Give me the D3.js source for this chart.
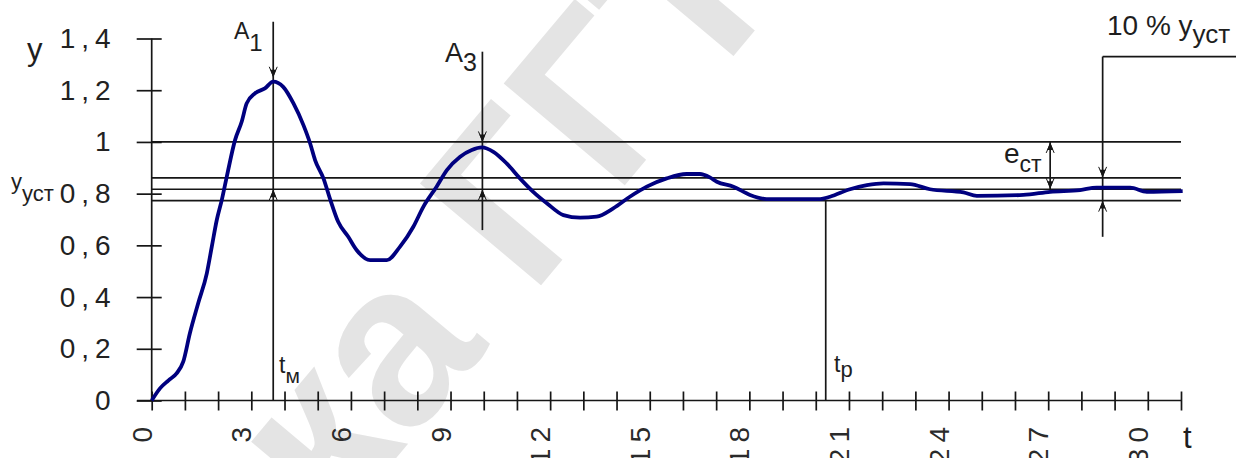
<!DOCTYPE html>
<html>
<head>
<meta charset="utf-8">
<script src="https://cdn.jsdelivr.net/npm/d3@7"></script>
<style>
  html, body { margin: 0; padding: 0; background: #fff; }
  svg { display: block; font-family: "Liberation Sans", Arial, sans-serif; }
</style>
</head>
<body>
<svg id="chart" width="1245" height="458"></svg>
<script>
// Transient response y(t) of a control system
const timeValues = [0, 0.25, 0.5, 0.75, 0.95, 1.15, 1.4, 1.66, 1.81, 1.96, 2.11, 2.26, 2.51, 2.71, 2.86,
  3.11, 3.41, 3.66, 3.96, 4.27, 4.57, 4.77, 4.92, 5.17, 5.37, 5.62, 5.92, 6.17, 6.58, 7.08, 7.48,
  7.88, 8.18, 8.58, 8.89, 9.29, 9.64, 9.94, 10.29, 10.69, 11.09, 11.49, 11.9, 12.4, 12.9, 13.4,
  13.9, 14.4, 14.91, 15.51, 16.11, 16.51, 16.81, 17.02, 17.52, 18.02, 18.52, 19.23, 20.13, 20.43,
  21.03, 21.54, 22.04, 22.84, 23.44, 24.45, 24.85, 26.25, 27.06, 27.96, 28.46, 29.47, 29.97, 31.05];
const responseValues = [0, 0.047, 0.077, 0.105, 0.15, 0.26, 0.376, 0.492, 0.595, 0.698, 0.775, 0.865, 1.007, 1.078, 1.149,
  1.188, 1.207, 1.233, 1.213, 1.149, 1.065, 0.995, 0.93, 0.86, 0.78, 0.69, 0.633, 0.582, 0.543, 0.543, 0.595,
  0.672, 0.749, 0.827, 0.891, 0.943, 0.969, 0.979, 0.962, 0.917, 0.859, 0.807, 0.763, 0.717, 0.707, 0.711,
  0.743, 0.788, 0.827, 0.859, 0.876, 0.876, 0.863, 0.846, 0.827, 0.795, 0.779, 0.779, 0.779, 0.788,
  0.817, 0.833, 0.84, 0.837, 0.817, 0.805, 0.791, 0.795, 0.807, 0.814, 0.823, 0.823, 0.807, 0.81];

// Axis ticks and labels
const xTickValues = d3.range(0, 32, 1);
const xLabelValues = [0, 3, 6, 9, 12, 15, 18, 21, 24, 27, 30];
const yTickValues = [0, 0.2, 0.4, 0.6, 0.8, 1.0, 1.2, 1.4];
const yTickLabels = ["0", "0,2", "0,4", "0,6", "0,8", "1", "1,2", "1,4"];

// Characteristic levels and instants
const levelOne = 1.0;
const ySteady = 0.817;
const bandUpper = 0.861;
const bandLower = 0.773;
const tPeak1 = 3.66;     // t_м, first maximum A1
const tPeak3 = 9.96;     // maximum A3
const tSettle = 20.3;    // t_p, settling time
const tError = 27.06;    // e_ст marker
const tBand = 28.64;     // 10 % y_уст marker

const svg = d3.select("#chart");
const x = d3.scaleLinear().domain([0, 31]).range([151.7, 1181]);
const y = d3.scaleLinear().domain([0, 1.4]).range([400.5, 38.5]);

const ink = "#161616";
const lw = 1.7;

// Watermark, split where the visible part starts
const wm = svg.append("g")
  .attr("transform", "translate(334,532) rotate(-50)")
  .attr("font-size", 230).attr("font-weight", "bold").attr("fill", "#e4e4e4");
wm.append("text").attr("text-anchor", "end").text("Библиоте");
wm.append("text").attr("text-anchor", "start").text("ка ГГТУ");

// Reference levels
const levels = [levelOne, bandUpper, ySteady, bandLower];
svg.append("g").selectAll("line").data(levels).join("line")
  .attr("x1", x(0)).attr("x2", x(31))
  .attr("y1", d => y(d)).attr("y2", d => y(d))
  .attr("stroke", ink).attr("stroke-width", lw);

// Vertical markers
const vlines = [
  { t: tPeak1, v0: 0, v1: 1.465 },
  { t: tPeak3, v0: 0.659, v1: 1.349 },
  { t: tSettle, v0: bandLower, v1: 0 },
  { t: tBand, v0: 0.633, v1: 1.33 },
  { t: tError, v0: ySteady, v1: levelOne }
];
svg.append("g").selectAll("line").data(vlines).join("line")
  .attr("x1", d => x(d.t)).attr("x2", d => x(d.t))
  .attr("y1", d => y(d.v0)).attr("y2", d => y(d.v1))
  .attr("stroke", ink).attr("stroke-width", lw);

// Leader for the 10 % label
svg.append("line")
  .attr("x1", x(tBand)).attr("x2", 1236)
  .attr("y1", y(1.33)).attr("y2", y(1.33))
  .attr("stroke", ink).attr("stroke-width", lw);

// Small arrowheads: dir = 1 points down, -1 points up
function arrow(t, v, dir) {
  const cx = x(t), cy = y(v);
  const g = svg.append("g").attr("transform", `translate(${cx},${cy}) scale(1,${dir})`);
  g.append("path").attr("d", "M0,0 L-3,-8 L3,-8 Z").attr("fill", ink);
  g.append("path").attr("d", "M-4,-11 L0,-2 M4,-11 L0,-2").attr("stroke", ink).attr("stroke-width", 1).attr("fill", "none");
}
arrow(tPeak1, 1.248, 1);
arrow(tPeak1, ySteady, -1);
arrow(tPeak3, 0.998, 1);
arrow(tPeak3, ySteady, -1);
arrow(tBand, bandUpper, 1);
arrow(tBand, bandLower, -1);
arrow(tError, levelOne, -1);
arrow(tError, ySteady, 1);

// Axes
const xAxis = svg.append("g").attr("transform", `translate(0,${y(0)})`)
  .call(d3.axisBottom(x).tickValues(xTickValues).tickFormat("").tickSizeOuter(0));
xAxis.select(".domain").remove();
xAxis.selectAll(".tick line").attr("y1", -9).attr("y2", 10).attr("stroke", ink).attr("stroke-width", lw);
svg.append("line").attr("x1", 137).attr("x2", x(31)).attr("y1", y(0)).attr("y2", y(0))
  .attr("stroke", ink).attr("stroke-width", lw);

const yAxis = svg.append("g").attr("transform", `translate(${x(0)},0)`)
  .call(d3.axisLeft(y).tickValues(yTickValues).tickFormat((d, i) => yTickLabels[i]).tickSizeOuter(0));
yAxis.select(".domain").attr("stroke", ink).attr("stroke-width", lw).attr("d", `M0,${y(0)}V${y(1.4)}`);
yAxis.selectAll(".tick line").attr("x1", -15).attr("x2", 10).attr("stroke", ink).attr("stroke-width", lw);
yAxis.selectAll(".tick text")
  .attr("x", -35).attr("dy", "0.32em")
  .attr("font-size", 28).attr("font-family", "Liberation Sans, Arial, sans-serif")
  .attr("letter-spacing", "6px").attr("fill", "#222");

// Rotated time labels
svg.append("g").selectAll("text").data(xLabelValues).join("text")
  .attr("transform", d => `translate(${x(d)},421) rotate(-90)`)
  .attr("text-anchor", "end")
  .attr("font-size", 28).attr("letter-spacing", "6px").attr("fill", "#2a2a2a")
  .text(d => String(d));

// Response curve
const line = d3.line().x((d, i) => x(timeValues[i])).y(d => y(d)).curve(d3.curveMonotoneX);
svg.append("path").datum(responseValues)
  .attr("d", line)
  .attr("fill", "none").attr("stroke", "#00007f").attr("stroke-width", 3.8)
  .attr("stroke-linejoin", "round");

// Text annotations with subscripts
function label(xp, yp, main, sub, size, subSize, subDy, subDx = 0) {
  const t = svg.append("text").attr("x", xp).attr("y", yp).attr("font-size", size).attr("fill", "#1e1e1e");
  t.append("tspan").text(main);
  if (sub) t.append("tspan").attr("dx", subDx).attr("dy", subDy).attr("font-size", subSize).text(sub);
}
label(27, 60, "y", null, 31);
label(11, 189, "y", "уст", 22, 22, 12);
label(234, 39, "A", "1", 23, 24, 12);
label(445, 62, "A", "3", 27, 25, 9);
label(279, 373, "t", "м", 23, 21, 10);
label(834, 372, "t", "p", 23, 22, 5);
label(1004, 163, "e", "ст", 28, 23, 9);
label(1107, 35, "10 % y", "уст", 28, 26, 8);
label(1183, 448, "t", null, 31);
</script>
</body>
</html>
